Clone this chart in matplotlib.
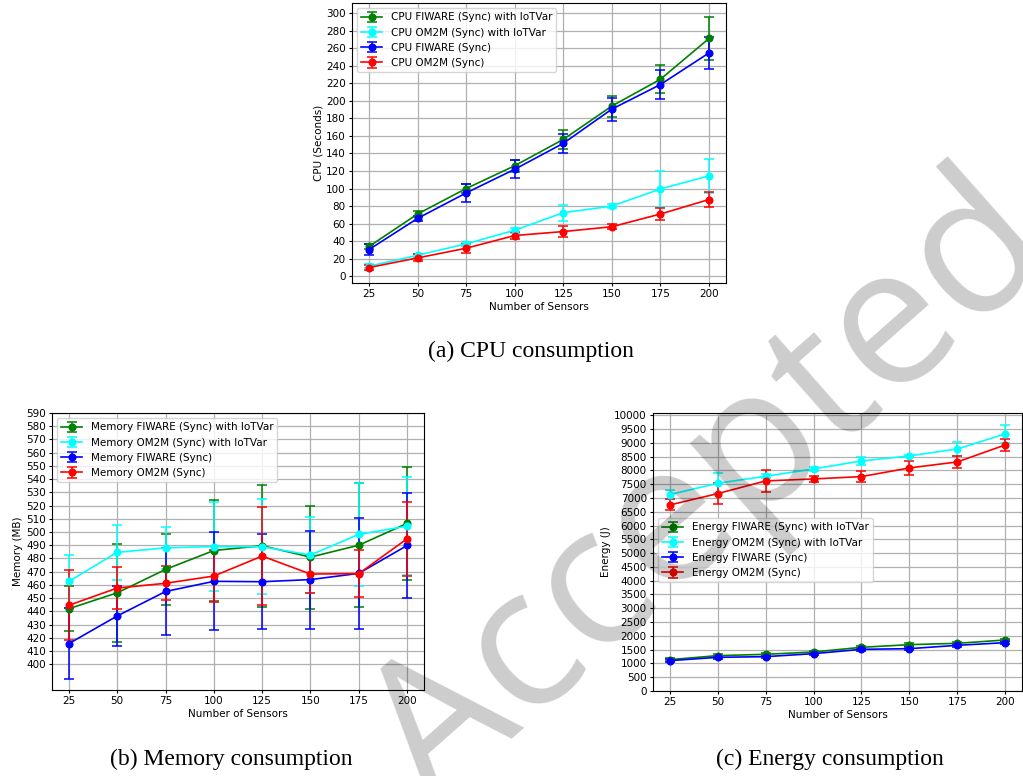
import matplotlib
matplotlib.use("Agg")
import matplotlib.pyplot as plt

# ---------------- data ----------------
sensors = [25, 50, 75, 100, 125, 150, 175, 200]

cpu_fiware_iotvar = [34, 71, 100, 126, 156, 194, 224.5, 271]
cpu_fiware_iotvar_err = [3, 3, 5, 7, 11, 12, 16, 25]
cpu_om2m_iotvar = [11.5, 24, 37, 52.5, 72.5, 80, 99.5, 114.5]
cpu_om2m_iotvar_err = [2, 2, 2, 3, 9, 2, 20, 19]
cpu_fiware = [30.5, 66, 95, 122, 151.5, 190.5, 218.5, 254.5]
cpu_fiware_err = [6, 3, 10, 10, 11, 13, 17, 18]
cpu_om2m = [10, 21, 32, 46.5, 51, 56.5, 71, 87.5]
cpu_om2m_err = [3, 4, 5, 4, 6, 3, 7, 9]

mem_fiware_iotvar = [442, 454, 471.7, 486, 489.6, 481, 490, 506.5]
mem_fiware_iotvar_err = [17, 37, 27, 38, 46, 39, 47, 43]
mem_om2m_iotvar = [462.7, 484.6, 488, 489, 488.8, 482.6, 498.2, 504.4]
mem_om2m_iotvar_err = [20, 21, 16, 34, 36, 29, 39, 37]
mem_fiware = [415.6, 436.5, 455, 462.7, 462.4, 464, 468.7, 489.8]
mem_fiware_err = [27, 23, 33, 37, 36, 37, 42, 40]
mem_om2m = [444.6, 457.6, 461.2, 466.7, 481.8, 468.2, 468.5, 494.9]
mem_om2m_err = [26.5, 16, 13, 19.5, 37, 14, 18, 28]

en_fiware_iotvar = [1136, 1282, 1330, 1414, 1584, 1680, 1729, 1850]
en_fiware_iotvar_err = [50, 50, 50, 50, 50, 50, 50, 50]
en_om2m_iotvar = [7121, 7532, 7786, 8052, 8342, 8523, 8777, 9321]
en_om2m_iotvar_err = [170, 360, 80, 60, 160, 50, 240, 340]
en_fiware = [1100, 1221, 1245, 1354, 1511, 1535, 1656, 1753]
en_fiware_err = [50, 50, 50, 50, 50, 50, 50, 50]
en_om2m = [6746, 7157, 7617, 7689, 7774, 8088, 8306, 8922]
en_om2m_err = [200, 375, 410, 100, 190, 250, 220, 215]

colors = ["green", "cyan", "blue", "red"]
FS = 7.5

W, H = 1023, 776
fig = plt.figure(figsize=(W / 100, H / 100), dpi=100)


def px_axes(left, top, right, bottom):
    return fig.add_axes([left / W, (H - bottom) / H, (right - left) / W, (bottom - top) / H])


def draw(ax, series, prefix, ylabel, yticks, ylim, legend_kw):
    names = [f"{prefix} FIWARE (Sync) with IoTVar", f"{prefix} OM2M (Sync) with IoTVar",
             f"{prefix} FIWARE (Sync)", f"{prefix} OM2M (Sync)"]
    for (vals, errs), c, n in zip(series, colors, names):
        ax.errorbar(sensors, vals, yerr=errs, color=c, marker="o", markersize=4.8,
                    linewidth=1.2, elinewidth=1.1, capsize=3.6, capthick=1.1, label=n)
    ax.set_xticks(sensors)
    ax.set_yticks(yticks)
    ax.set_ylim(*ylim)
    ax.set_xlim(16.25, 208.75)
    ax.grid(True, color="#b0b0b0", linewidth=0.9)
    ax.set_axisbelow(True)
    ax.tick_params(labelsize=FS, length=2.5, pad=2)
    ax.set_xlabel("Number of Sensors", fontsize=FS, labelpad=2)
    ax.set_ylabel(ylabel, fontsize=FS, labelpad=2)
    ax.legend(fontsize=FS, **legend_kw)


ax1 = px_axes(352, 3, 726, 283)
draw(ax1, [(cpu_fiware_iotvar, cpu_fiware_iotvar_err), (cpu_om2m_iotvar, cpu_om2m_iotvar_err),
           (cpu_fiware, cpu_fiware_err), (cpu_om2m, cpu_om2m_err)],
     "CPU", "CPU (Seconds)", list(range(0, 301, 20)), (-7.6, 311.4), dict(loc="upper left"))

ax2 = px_axes(52, 413, 424, 690)
draw(ax2, [(mem_fiware_iotvar, mem_fiware_iotvar_err), (mem_om2m_iotvar, mem_om2m_iotvar_err),
           (mem_fiware, mem_fiware_err), (mem_om2m, mem_om2m_err)],
     "Memory", "Memory (MB)", list(range(400, 591, 10)), (380.5, 590), dict(loc="upper left"))

ax3 = px_axes(653, 413, 1022, 691)
draw(ax3, [(en_fiware_iotvar, en_fiware_iotvar_err), (en_om2m_iotvar, en_om2m_iotvar_err),
           (en_fiware, en_fiware_err), (en_om2m, en_om2m_err)],
     "Energy", "Energy (J)", list(range(0, 10001, 500)), (0, 10080),
     dict(loc="upper left", bbox_to_anchor=(0.0, 0.64)))

cap_font = dict(fontsize=17, family="Liberation Serif", ha="center", va="center")
fig.text(531 / W, 1 - 351 / H, "(a) CPU consumption", **cap_font)
fig.text(231 / W, 1 - 759 / H, "(b) Memory consumption", **cap_font)
fig.text(830 / W, 1 - 759 / H, "(c) Energy consumption", **cap_font)

# watermark
fig.text(712 / W, 1 - 494 / H, "Accepted", fontsize=140, family="Open Sans",
         color="black", alpha=0.2, rotation=41.5, ha="center", va="center",
         rotation_mode="anchor", zorder=10)

fig.savefig("out.png", dpi=100)
